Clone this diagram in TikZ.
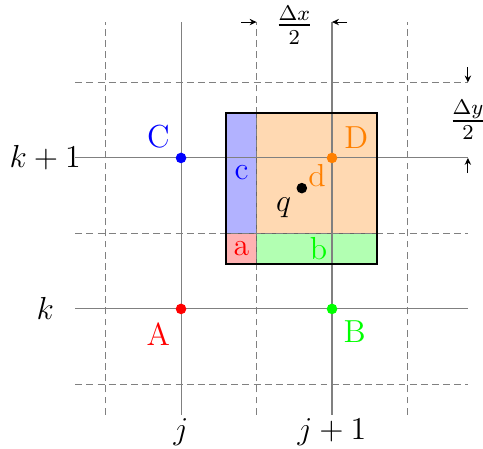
\documentclass[tikz,border=0pt]{standalone}
\usepackage{amsmath}
\usetikzlibrary{arrows.meta,positioning}

\begin{document}
\begin{tikzpicture}[
    x=2cm,y=2cm,
    font=\large,
    gridline/.style={gray,thin},
    halfline/.style={gray,thin,dash pattern=on 2.6pt off 1.6pt},
    cell/.style={draw=black!60,very thin},
    pt/.style={circle,fill,inner sep=0pt,minimum size=4pt},
    arr/.style={-{Stealth[length=2.6pt,width=2.4pt]},thin}
]
\useasboundingbox (-1.199,-0.927) rectangle (2.0,2.046);
% shaded cells round q
\filldraw[cell,fill=blue!30] (0.3,0.5) rectangle (0.5,1.3);
\filldraw[cell,fill=red!30] (0.3,0.3) rectangle (0.5,0.5);
\filldraw[cell,fill=orange!30] (0.5,0.5) rectangle (1.3,1.3);
\filldraw[cell,fill=green!30] (0.5,0.3) rectangle (1.3,0.5);
% grid
\foreach \x in {-0.5,0.5,1.5} \draw[halfline] (\x,-0.7) -- (\x,1.9);
\foreach \y in {-0.5,0.5,1.5} \draw[halfline] (-0.7,\y) -- (1.9,\y);
\foreach \x in {0,1} \draw[gridline] (\x,-0.7) -- (\x,1.9);
\foreach \y in {0,1} \draw[gridline] (-0.7,\y) -- (1.9,\y);
\draw[thick] (0.3,0.3) rectangle (1.3,1.3);
% points
\node[pt,red] (A) at (0,0) {};
\node[pt,green] (B) at (1,0) {};
\node[pt,blue] (C) at (0,1) {};
\node[pt,orange] (D) at (1,1) {};
\node[pt,black] (q) at (0.8,0.8) {};
% labels
\node[red] (labA) at (-0.15,-0.165) {A};
\node[green] (labB) at (1.15,-0.15) {B};
\node[blue] (labC) at (-0.15,1.14) {C};
\node[orange] (labD) at (1.16,1.135) {D};
\node[orange] (labd) at (0.9,0.88) {d};
\node (labq) at (0.68,0.67) {$q$};
\node[blue] (labc) at (0.4,0.9) {c};
\node[red] (laba) at (0.4,0.4) {a};
\node[green] (labb) at (0.91,0.4) {b};
\node (k1) at (-0.9,1) {$k+1$};
\node (k0) at (-0.9,0) {$k$};
\node (j0) at (0,-0.815) {$j$};
\node (j1) at (1,-0.815) {$j+1$};
% half widths
\node (dx) at (0.75,1.88) {$\frac{\Delta x}{2}$};
\node (dy) at (1.9,1.25) {$\frac{\Delta y}{2}$};
\coordinate (dxl) at (0.4,1.9);
\coordinate (dxr) at (1.1,1.9);
\coordinate (dyt) at (1.9,1.6);
\coordinate (dyb) at (1.9,0.9);
\draw[arr] (dxl) -- (0.5,1.9);
\draw[arr] (dxr) -- (1,1.9);
\draw[arr] (dyt) -- (1.9,1.5);
\draw[arr] (dyb) -- (1.9,1);
\end{tikzpicture}
\end{document}
